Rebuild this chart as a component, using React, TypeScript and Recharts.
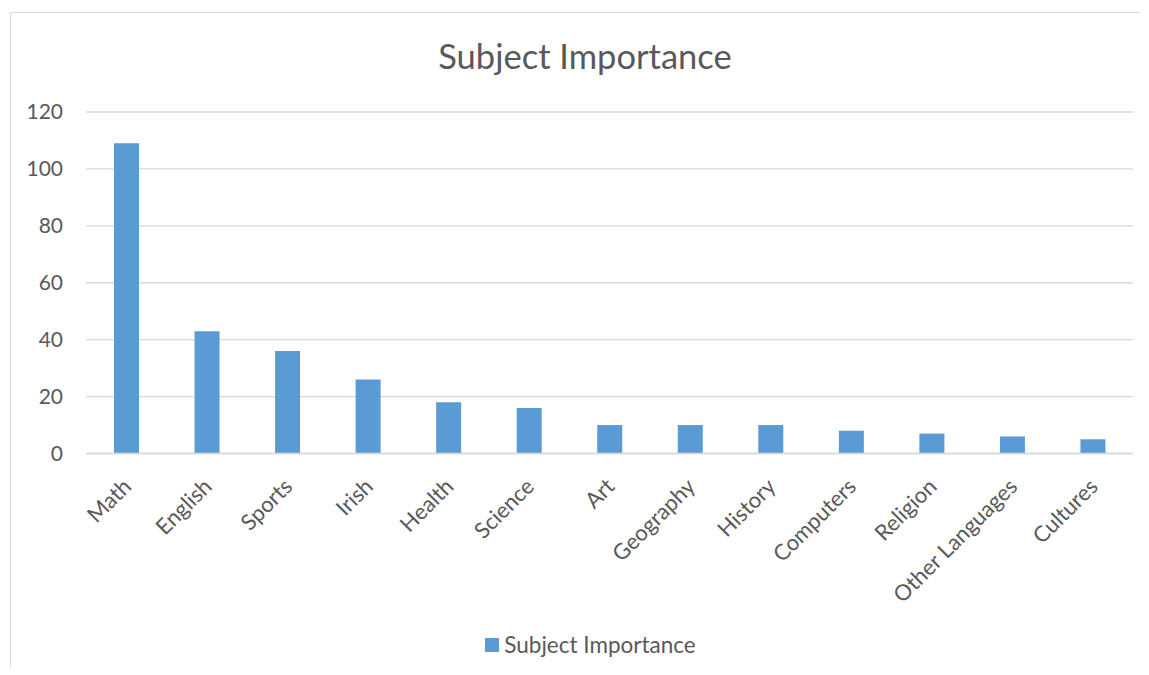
import { BarChart, Bar, XAxis, YAxis, CartesianGrid, Legend } from "recharts";

const subjects = [
  "Math",
  "English",
  "Sports",
  "Irish",
  "Health",
  "Science",
  "Art",
  "Geography",
  "History",
  "Computers",
  "Religion",
  "Other Languages",
  "Cultures",
];
const importance = [109, 43, 36, 26, 18, 16, 10, 10, 10, 8, 7, 6, 5];
const yTicks = [0, 20, 40, 60, 80, 100, 120];

const seriesName = "Subject Importance";
const barColor = "#5b9bd5";
const textColor = "#595959";
const gridColor = "#d9d9d9";
const font = "Lato, 'Open Sans', sans-serif";

const data = subjects.map((subject, i) => ({ subject, value: importance[i] }));

// category labels slanted up-right, ending just under each bar
const SlantedTick = ({ x, y, payload }: any) => {
  const ax = x + 1;
  const ay = y + 29;
  return (
    <text
      x={ax}
      y={ay}
      dy="0.35em"
      textAnchor="end"
      fill={textColor}
      fontSize={22}
      fontFamily={font}
      transform={`rotate(-45 ${ax} ${ay})`}
    >
      {payload.value}
    </text>
  );
};

const LegendContent = () => (
  <div
    style={{
      display: "flex",
      justifyContent: "center",
      alignItems: "center",
      gap: 5,
      marginLeft: 32,
      fontFamily: font,
      fontSize: 22.5,
      color: textColor,
    }}
  >
    <span style={{ width: 14, height: 14, background: barColor, display: "inline-block" }} />
    <span>{seriesName}</span>
  </div>
);

export default function App() {
  return (
    <div
      style={{
        position: "relative",
        width: 1149,
        height: 675,
        margin: -8,
        overflow: "hidden",
        background: "#fff",
        fontFamily: font,
      }}
    >
      <div
        style={{
          position: "absolute",
          left: 10,
          top: 12,
          width: 1160,
          height: 720,
          border: `1.5px solid ${gridColor}`,
          boxSizing: "border-box",
        }}
      />
      <div
        style={{
          position: "absolute",
          left: 10,
          top: 39,
          width: 1150,
          textAlign: "center",
          fontSize: 34.5,
          lineHeight: 1,
          color: textColor,
        }}
      >
        {seriesName}
      </div>
      <div style={{ position: "absolute", left: 0, top: 0 }}>
        <BarChart
          width={1149}
          height={675}
          data={data}
          margin={{ top: 112, right: 16, bottom: 0, left: 16 }}
        >
          <CartesianGrid vertical={false} stroke={gridColor} strokeWidth={1.3} />
          <XAxis
            dataKey="subject"
            interval={0}
            height={221.5}
            tickSize={0}
            tickMargin={0}
            axisLine={{ stroke: gridColor, strokeWidth: 1.3 }}
            tickLine={false}
            tick={<SlantedTick />}
          />
          <YAxis
            width={70}
            domain={[0, 120]}
            ticks={yTicks}
            tickSize={0}
            tickMargin={23}
            axisLine={false}
            tickLine={false}
            tick={{ fill: textColor, fontSize: 21, fontFamily: font }}
          />
          <Legend
            layout="horizontal"
            verticalAlign="middle"
            align="center"
            wrapperStyle={{ top: 631, left: 0, width: 1149 }}
            content={<LegendContent />}
          />
          <Bar
            dataKey="value"
            name={seriesName}
            fill={barColor}
            barSize={25}
            isAnimationActive={false}
          />
        </BarChart>
      </div>
    </div>
  );
}
